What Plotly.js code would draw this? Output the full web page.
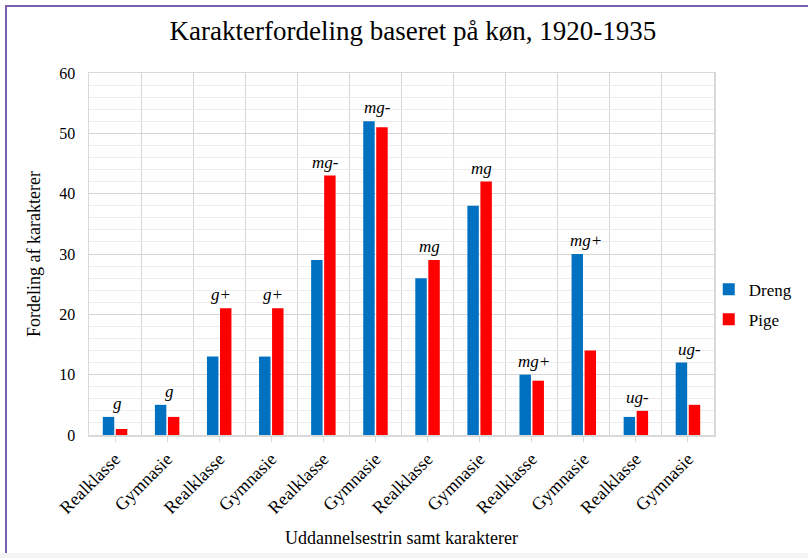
<!DOCTYPE html>
<html>
<head>
<meta charset="utf-8">
<script src="https://cdn.plot.ly/plotly-3.0.1.min.js"></script>
<style>
  html, body { margin: 0; padding: 0; background: #ffffff; }
  #wrap { position: relative; width: 808px; height: 558px; overflow: hidden; background: #ffffff; }
  #chart { position: absolute; left: 0; top: 0; width: 808px; height: 558px; }
  #chart svg text { font-family: "Liberation Serif", "Times New Roman", serif !important; }
  #topline { position: absolute; left: 5px; top: 5px; width: 803px; height: 2px; background: #7d5fb2; }
  #leftline { position: absolute; left: 5px; top: 5px; width: 2px; height: 548px; background: #7d5fb2; }
  #bottomstrip { position: absolute; left: 0; top: 553px; width: 808px; height: 5px; background: #f4f4f4; }
</style>
</head>
<body>
<div id="wrap">
  <div id="chart"></div>
  <div id="topline"></div>
  <div id="leftline"></div>
  <div id="bottomstrip"></div>
</div>
<script>
const categories = ["Realklasse", "Gymnasie", "Realklasse", "Gymnasie", "Realklasse", "Gymnasie",
                    "Realklasse", "Gymnasie", "Realklasse", "Gymnasie", "Realklasse", "Gymnasie"];
const dreng = [3, 5, 13, 13, 29, 52, 26, 38, 10, 30, 3, 12];
const pige  = [1, 3, 21, 21, 43, 51, 29, 42, 9, 14, 4, 5];
const grades = ["g", "g", "g+", "g+", "mg-", "mg-", "mg", "mg", "mg+", "mg+", "ug-", "ug-"];
const yTicks = [0, 10, 20, 30, 40, 50, 60];

const xIdx = categories.map((_, i) => i);
const serif = "Liberation Serif, serif";

const traces = [
  { type: "bar", name: "Dreng", x: xIdx, y: dreng, marker: { color: "#0070C0" }, legendgroup: "a", hoverinfo: "y" },
  { type: "bar", name: "Pige", x: xIdx, y: pige, marker: { color: "#FF0000" }, legendgroup: "b", hoverinfo: "y" }
];

const annotations = grades.map((g, i) => ({
  x: xIdx[i], y: Math.max(dreng[i], pige[i]), xref: "x", yref: "y",
  text: g, showarrow: false, yanchor: "bottom", yshift: 2, xshift: 2,
  font: { family: serif, size: 17, color: "#000000", style: "italic" }
}));

const layout = {
  width: 808, height: 558,
  margin: { l: 89, r: 93, t: 73, b: 123 },
  paper_bgcolor: "rgba(0,0,0,0)", plot_bgcolor: "#ffffff",
  font: { family: serif, color: "#000000" },
  title: { text: "Karakterfordeling baseret på køn, 1920-1935", x: 0.511, xanchor: "center", y: 0.945, yanchor: "middle",
           font: { family: serif, size: 27, color: "#000000" } },
  barmode: "group", bargap: 0.5, bargroupgap: 0.12,
  xaxis: {
    range: [-0.5, 11.5], tickmode: "array", tickvals: xIdx, ticktext: categories,
    tickangle: -45, tickfont: { family: serif, size: 18, color: "#000000" },
    ticks: "outside", ticklen: 5, tickcolor: "#d9d9d9",
    showgrid: false, zeroline: false, automargin: false,
    showline: true, linecolor: "#d9d9d9", linewidth: 1.5, mirror: true,
    minor: { tickmode: "linear", tick0: -0.5, dtick: 1, showgrid: true, gridcolor: "#d6d6d6", gridwidth: 1, ticks: "" },
    title: { text: "Uddannelsestrin samt karakterer", font: { family: serif, size: 18, color: "#000000" }, standoff: 14 },
    fixedrange: true
  },
  yaxis: {
    range: [0, 60], tickmode: "array", tickvals: yTicks, tickfont: { family: serif, size: 16, color: "#000000" },
    showgrid: true, gridcolor: "#d6d6d6", gridwidth: 1, zeroline: false, automargin: false,
    showline: true, linecolor: "#d9d9d9", linewidth: 1.5, mirror: true,
    ticks: "", ticklabelstandoff: 9,
    minor: { dtick: 2, showgrid: true, gridcolor: "#ececec", gridwidth: 1 },
    title: { text: "Fordeling af karakterer", font: { family: serif, size: 18, color: "#000000" }, standoff: 14 },
    fixedrange: true
  },
  legend: { x: 0.99, xanchor: "left", y: 0.36, yanchor: "middle", font: { family: serif, size: 17, color: "#000000" },
            tracegroupgap: 5, itemwidth: 30, bgcolor: "rgba(0,0,0,0)" },
  annotations: annotations,
  showlegend: true
};

Plotly.newPlot("chart", traces, layout, { displayModeBar: false, staticPlot: true });
</script>
</body>
</html>
